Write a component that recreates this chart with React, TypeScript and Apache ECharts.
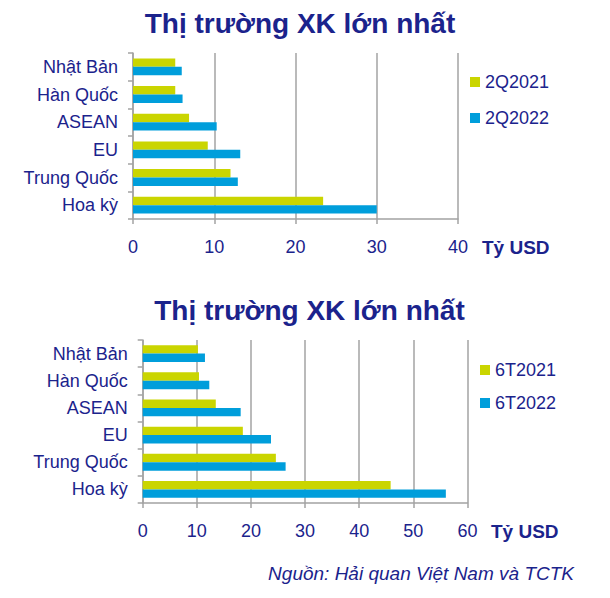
import React, { useEffect, useRef } from "react";
import * as echarts from "echarts";

const categories = ["Nhật Bản", "Hàn Quốc", "ASEAN", "EU", "Trung Quốc", "Hoa kỳ"];
const q2021 = [5.2, 5.2, 6.9, 9.2, 12.0, 23.4];
const q2022 = [6.0, 6.1, 10.3, 13.2, 12.9, 30.0];
const h2021 = [10.2, 10.4, 13.5, 18.5, 24.6, 45.8];
const h2022 = [11.5, 12.3, 18.1, 23.7, 26.4, 56.0];
const topTicksMax = 40;
const bottomTicksMax = 60;
const titleText = "Thị trường XK lớn nhất";
const unitText = "Tỷ USD";
const sourceText = "Nguồn: Hải quan Việt Nam và TCTK";
const legendTop = ["2Q2021", "2Q2022"];
const legendBottom = ["6T2021", "6T2022"];

const NAVY = "#1B238C";
const YELLOW = "#CAD500";
const BLUE = "#009EDB";
const GRAY = "#A3A3A3";
const FONT = "Liberation Sans, Arial, sans-serif";

export default function App() {
  const ref = useRef<HTMLDivElement>(null);
  useEffect(() => {
    document.body.style.margin = "0";
    const chart = echarts.init(ref.current!, null, { renderer: "svg" });
    const xAxisCommon = (max: number, gridIndex: number) => ({
      type: "value",
      gridIndex,
      min: 0,
      max,
      interval: 10,
      axisLine: { show: true, lineStyle: { color: GRAY, width: 1.5 } },
      axisTick: { show: true, length: 5, lineStyle: { color: GRAY, width: 1.5 } },
      splitLine: { show: true, lineStyle: { color: GRAY, width: 1.5 } },
      axisLabel: { color: NAVY, fontSize: 18, fontFamily: FONT, margin: 19 },
    });
    const yAxisCommon = (gridIndex: number) => ({
      type: "category",
      gridIndex,
      inverse: true,
      data: categories,
      axisLine: { show: true, lineStyle: { color: GRAY, width: 1.5 } },
      axisTick: { show: true, length: 5, lineStyle: { color: GRAY, width: 1.5 } },
      axisLabel: { color: NAVY, fontSize: 18, fontFamily: FONT, margin: 15 },
    });
    const barCommon = { type: "bar", barWidth: 8.4, barGap: "0%" };
    chart.setOption({
      animation: false,
      textStyle: { fontFamily: FONT },
      grid: [
        { left: 133, top: 53, width: 325, height: 166 },
        { left: 142.7, top: 340, width: 324.8, height: 163 },
      ],
      xAxis: [xAxisCommon(topTicksMax, 0), xAxisCommon(bottomTicksMax, 1)],
      yAxis: [yAxisCommon(0), yAxisCommon(1)],
      legend: [
        {
          data: legendTop,
          orient: "vertical",
          left: 465,
          top: 68,
          itemWidth: 10,
          itemHeight: 10,
          itemGap: 18,
          icon: "rect",
          textStyle: { color: NAVY, fontSize: 18, fontFamily: FONT },
        },
        {
          data: legendBottom,
          orient: "vertical",
          left: 475,
          top: 356,
          itemWidth: 10,
          itemHeight: 10,
          itemGap: 15,
          icon: "rect",
          textStyle: { color: NAVY, fontSize: 18, fontFamily: FONT },
        },
      ],
      series: [
        { ...barCommon, name: legendTop[0], xAxisIndex: 0, yAxisIndex: 0, data: q2021, itemStyle: { color: YELLOW } },
        { ...barCommon, name: legendTop[1], xAxisIndex: 0, yAxisIndex: 0, data: q2022, itemStyle: { color: BLUE } },
        { ...barCommon, name: legendBottom[0], xAxisIndex: 1, yAxisIndex: 1, data: h2021, itemStyle: { color: YELLOW } },
        { ...barCommon, name: legendBottom[1], xAxisIndex: 1, yAxisIndex: 1, data: h2022, itemStyle: { color: BLUE } },
      ],
      graphic: [
        {
          type: "text",
          x: 300,
          y: 23,
          style: { text: titleText, fill: NAVY, font: `bold 28px ${FONT}`, textAlign: "center", textVerticalAlign: "middle" },
        },
        {
          type: "text",
          x: 309.5,
          y: 310,
          style: { text: titleText, fill: NAVY, font: `bold 28px ${FONT}`, textAlign: "center", textVerticalAlign: "middle" },
        },
        {
          type: "text",
          x: 482,
          y: 247,
          style: { text: unitText, fill: NAVY, font: `bold 19px ${FONT}`, textAlign: "left", textVerticalAlign: "middle" },
        },
        {
          type: "text",
          x: 491,
          y: 531,
          style: { text: unitText, fill: NAVY, font: `bold 19px ${FONT}`, textAlign: "left", textVerticalAlign: "middle" },
        },
        {
          type: "text",
          x: 574,
          y: 573,
          style: { text: sourceText, fill: NAVY, font: `italic 19px ${FONT}`, textAlign: "right", textVerticalAlign: "middle" },
        },
      ],
    });
    return () => chart.dispose();
  }, []);
  return <div ref={ref} style={{ width: 610, height: 598 }} />;
}
